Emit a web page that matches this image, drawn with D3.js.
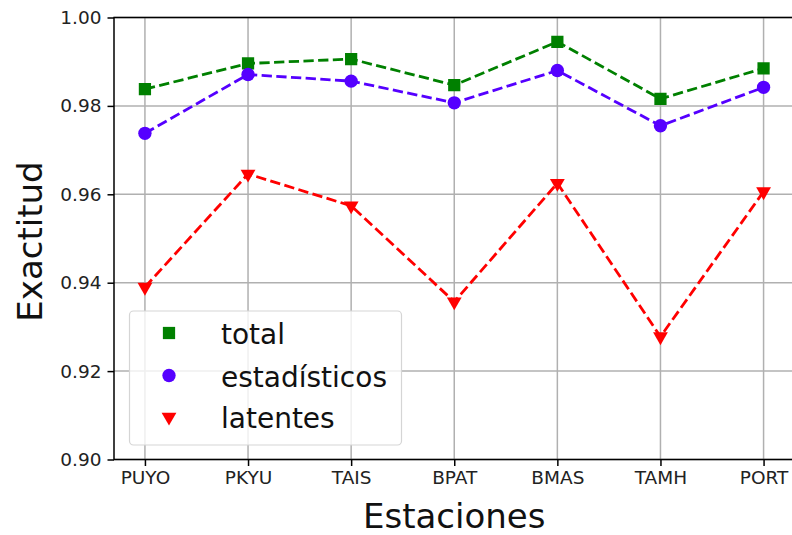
<!DOCTYPE html>
<html>
<head>
<meta charset="utf-8">
<script src="https://cdn.jsdelivr.net/npm/d3@7"></script>
<style>
  html, body { margin: 0; padding: 0; background: #fff; }
  svg { display: block; font-family: "DejaVu Sans", sans-serif; }
</style>
</head>
<body>
<svg id="chart" width="792" height="535"></svg>
<script>
// Stations along the x axis
const estaciones = ["PUYO", "PKYU", "TAIS", "BPAT", "BMAS", "TAMH", "PORT"];

// Accuracy per station for each feature set
const total        = [0.9838, 0.9896, 0.9906, 0.9847, 0.9945, 0.9816, 0.9885];
const estadisticos = [0.9738, 0.9871, 0.9856, 0.9807, 0.9880, 0.9755, 0.9842];
const latentes     = [0.9390, 0.9646, 0.9574, 0.9357, 0.9625, 0.9278, 0.9606];

// Y axis ticks
const yTicks = [0.90, 0.92, 0.94, 0.96, 0.98, 1.00];

const series = [
  { name: "total",        values: total,        color: "#008000", marker: "square" },
  { name: "estadísticos", values: estadisticos, color: "#5500ff", marker: "circle" },
  { name: "latentes",     values: latentes,     color: "#ff0000", marker: "triangle" }
];

const svg = d3.select("#chart");

// Plot area
const plotLeft = 114, plotRight = 794.5, plotTop = 17.5, plotBottom = 459.5;

const x = d3.scaleLinear().domain([-0.3, estaciones.length - 1 + 0.3]).range([plotLeft, plotRight]);
const y = d3.scaleLinear().domain([0.90, 1.00]).range([plotBottom, plotTop]);

const clip = svg.append("defs").append("clipPath").attr("id", "plot-clip");
clip.append("rect").attr("x", plotLeft - 10).attr("y", plotTop - 10)
  .attr("width", plotRight - plotLeft + 20).attr("height", plotBottom - plotTop + 20);

// Grid lines
const grid = svg.append("g");
grid.selectAll("line.gx").data(estaciones).join("line")
  .attr("x1", (d, i) => x(i)).attr("x2", (d, i) => x(i))
  .attr("y1", plotTop).attr("y2", plotBottom)
  .attr("stroke", "#b0b0b0").attr("stroke-width", 1.5);
grid.selectAll("line.gy").data(yTicks).join("line")
  .attr("x1", plotLeft).attr("x2", plotRight)
  .attr("y1", d => y(d)).attr("y2", d => y(d))
  .attr("stroke", "#b0b0b0").attr("stroke-width", 1.5);

// Axes
const xAxis = d3.axisBottom(x)
  .tickValues(d3.range(estaciones.length))
  .tickFormat(i => estaciones[i])
  .tickSize(6.5).tickPadding(5);
const yAxis = d3.axisLeft(y)
  .tickValues(yTicks)
  .tickFormat(d3.format(".2f"))
  .tickSize(6.5).tickPadding(6);

const gx = svg.append("g").attr("transform", `translate(0,${plotBottom})`).call(xAxis);
const gy = svg.append("g").attr("transform", `translate(${plotLeft},0)`).call(yAxis);
[gx, gy].forEach(g => {
  g.select(".domain").remove();
  g.selectAll(".tick line").attr("stroke", "#000").attr("stroke-width", 1.5);
  g.selectAll(".tick text").attr("font-family", "DejaVu Sans").attr("font-size", 18.5).attr("fill", "#222");
});

// Spines
svg.append("rect")
  .attr("x", plotLeft).attr("y", plotTop)
  .attr("width", plotRight - plotLeft).attr("height", plotBottom - plotTop)
  .attr("fill", "none").attr("stroke", "#000").attr("stroke-width", 1.5);

// Marker shapes
const symbolFor = {
  square: d3.symbol().type(d3.symbolSquare).size(150),
  circle: d3.symbol().type(d3.symbolCircle).size(140),
  triangle: d3.symbol().type(d3.symbolTriangle).size(95)
};
function drawMarker(g, s, cx, cy) {
  const rot = s.marker === "triangle" ? " rotate(180)" : "";
  g.append("path")
    .attr("d", symbolFor[s.marker]())
    .attr("transform", `translate(${cx},${cy})${rot}`)
    .attr("fill", s.color);
}

// Series lines and markers
const plot = svg.append("g").attr("clip-path", "url(#plot-clip)");
const line = d3.line().x((d, i) => x(i)).y(d => y(d));
series.forEach(s => {
  plot.append("path")
    .datum(s.values)
    .attr("d", line)
    .attr("fill", "none")
    .attr("stroke", s.color)
    .attr("stroke-width", 2.8)
    .attr("stroke-dasharray", "10.3,4.4");
  s.values.forEach((v, i) => drawMarker(plot, s, x(i), y(v)));
});

// Legend
const legend = svg.append("g");
legend.append("rect")
  .attr("x", 129.5).attr("y", 311).attr("width", 272).attr("height", 134)
  .attr("rx", 4).attr("fill", "#fff").attr("fill-opacity", 0.8)
  .attr("stroke", "#d5d5d5").attr("stroke-width", 1.2);
const rowY = [333, 375.5, 417];
series.forEach((s, i) => {
  drawMarker(legend, s, 169, rowY[i]);
  legend.append("text")
    .attr("x", 221).attr("y", rowY[i] + 11)
    .attr("font-size", 28).attr("fill", "#111")
    .text(s.name);
});

// Axis titles
svg.append("text")
  .attr("x", (plotLeft + plotRight) / 2).attr("y", 528)
  .attr("text-anchor", "middle").attr("font-size", 34).attr("fill", "#111")
  .text("Estaciones");
svg.append("text")
  .attr("transform", `translate(42,${(plotTop + plotBottom) / 2 + 3}) rotate(-90)`)
  .attr("text-anchor", "middle").attr("font-size", 34).attr("fill", "#111")
  .text("Exactitud");
</script>
</body>
</html>
